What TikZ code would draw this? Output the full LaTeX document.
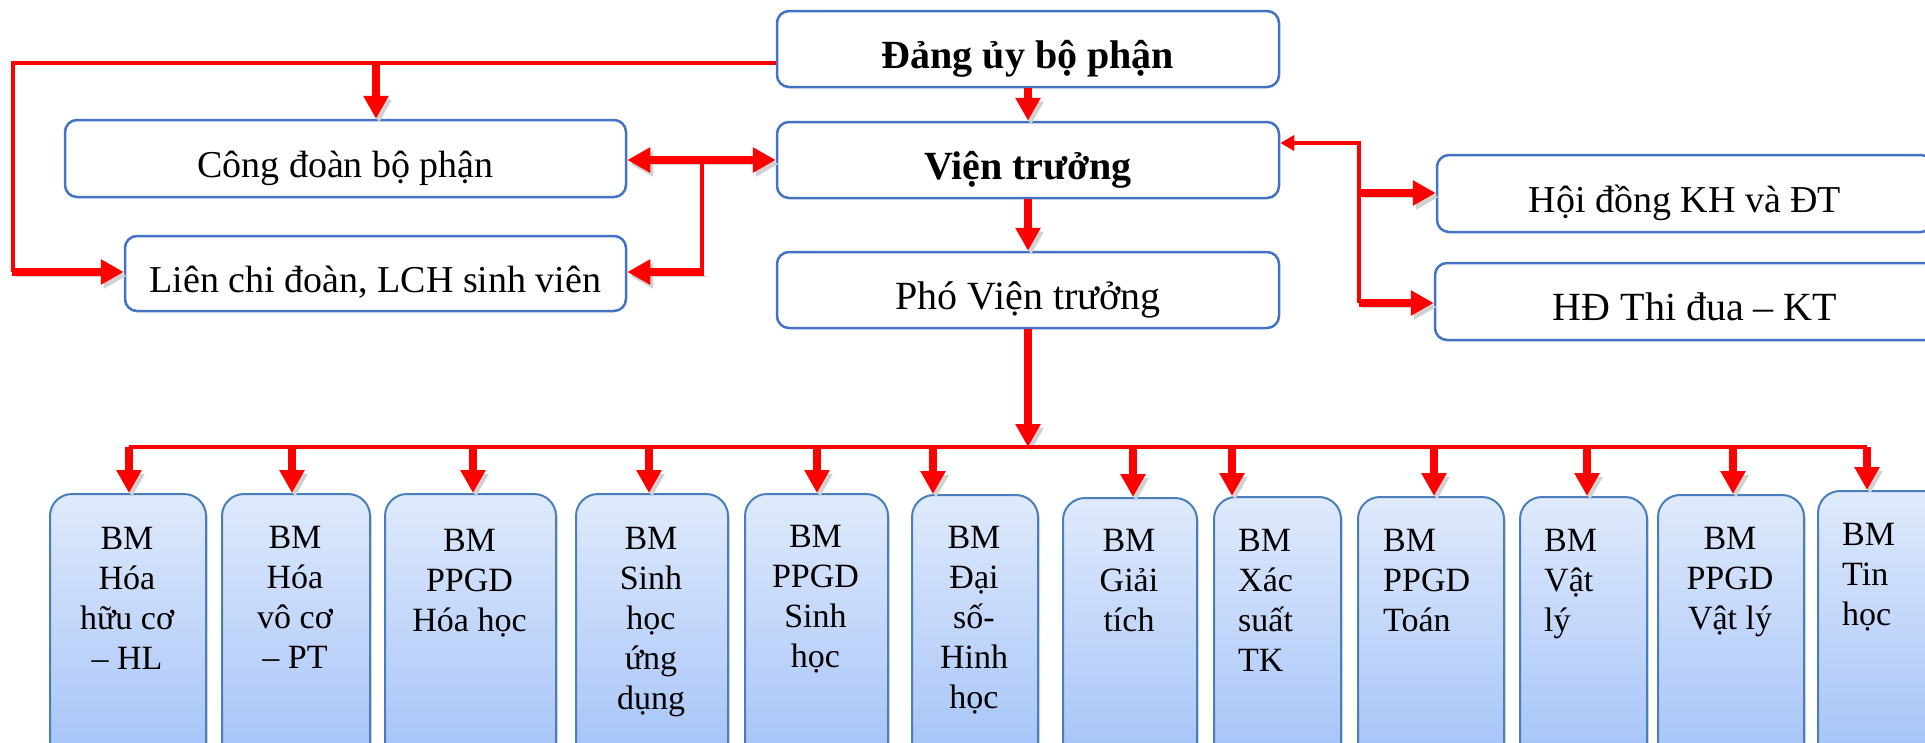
\documentclass[tikz,border=0pt]{standalone}
\usepackage{fontspec}
\setmainfont{Liberation Serif}
\usetikzlibrary{arrows.meta,calc,shadows}
\definecolor{redc}{RGB}{255,0,0}
\definecolor{topb}{RGB}{68,114,196}
\definecolor{botb}{RGB}{74,126,187}
\definecolor{gtop}{RGB}{223,234,252}
\definecolor{gbot}{RGB}{158,190,247}
\begin{document}
\begin{tikzpicture}[x=1pt,y=-1pt,
  topbox/.style={draw=topb, line width=2.5pt, rounded corners=12pt, fill=white,
    minimum height=76pt, text height=38pt, text depth=0pt, inner sep=0pt},
  bmbox/.style={draw=botb, line width=2pt, rounded corners=22pt, top color=gtop,
    bottom color=gbot, anchor=north west, inner sep=0pt, minimum height=300pt,
    drop shadow={shadow xshift=2pt, shadow yshift=-3pt, opacity=0.25}},
  bmtext/.style={font=\fontsize{34}{40}\selectfont, inner sep=0pt, align=center, anchor=north},
  bmleft/.style={font=\fontsize{34}{40}\selectfont, inner sep=0pt, align=left, anchor=north west},
  thinred/.style={draw=redc, line width=3.5pt},
  shad/.style={preaction={draw=black!18, transform canvas={xshift=3pt,yshift=-4pt}}},
  thickarr/.style={draw=redc, line width=7.5pt, shad, -{Triangle[length=23pt,width=24pt]}},
  thickdbl/.style={draw=redc, line width=7.5pt, shad, {Triangle[length=23pt,width=24pt]}-{Triangle[length=23pt,width=24pt]}},
  thinarr/.style={draw=redc, line width=3.5pt, -{Triangle[length=14pt,width=15pt]}}
]
\useasboundingbox (0,0) rectangle (1925,742);
\clip (0,0) rectangle (1925,742);

% top boxes
\node[topbox, minimum width=502pt, font=\fontsize{40}{48}\selectfont\bfseries] (dang) at (1028,49) {Đảng ủy bộ phận};
\node[topbox, minimum width=502pt, font=\fontsize{40}{48}\selectfont\bfseries] (vien) at (1028,160) {Viện trưởng};
\node[topbox, minimum width=502pt, font=\fontsize{40}{48}\selectfont] (pho) at (1028,290) {Phó Viện trưởng};
\node[topbox, minimum width=561pt, minimum height=77pt, font=\fontsize{38}{46}\selectfont] (cong) at (345.5,158.5) {Công đoàn bộ phận};
\node[topbox, minimum width=501pt, minimum height=75pt, font=\fontsize{38}{46}\selectfont] (lien) at (375.5,273.5) {Liên chi đoàn, LCH sinh viên};
\node[topbox, minimum width=496pt, minimum height=77pt, font=\fontsize{38}{46}\selectfont] (hoi) at (1685,193.5) {Hội đồng KH và ĐT};
\node[topbox, minimum width=520pt, minimum height=77pt, font=\fontsize{40}{48}\selectfont] (hdtd) at (1695,301.5) {HĐ Thi đua – KT};

% bottom boxes
\node[bmbox, minimum width=156pt] (b1) at (49,493) {};
\node[bmbox, minimum width=148pt] (b2) at (221,493) {};
\node[bmbox, minimum width=171pt] (b3) at (384,493) {};
\node[bmbox, minimum width=152pt] (b4) at (575,493) {};
\node[bmbox, minimum width=143pt] (b5) at (744,493) {};
\node[bmbox, minimum width=126pt] (b6) at (911,494) {};
\node[bmbox, minimum width=134pt] (b7) at (1062,497) {};
\node[bmbox, minimum width=127pt] (b8) at (1213,496) {};
\node[bmbox, minimum width=146pt] (b9) at (1357,496) {};
\node[bmbox, minimum width=127pt] (b10) at (1519,496) {};
\node[bmbox, minimum width=146pt] (b11) at (1657,494) {};
\node[bmbox, minimum width=146pt] (b12) at (1817,490) {};

\node[bmtext] (t1) at (127,527.5) {BM\\Hóa\\hữu cơ\\– HL};
\node[bmtext] (t2) at (295,526.5) {BM\\Hóa\\vô cơ\\– PT};
\node[bmtext] (t3) at (469.5,529.5) {BM\\PPGD\\Hóa học};
\node[bmtext] (t4) at (651,527.5) {BM\\Sinh\\học\\ứng\\dụng};
\node[bmtext] (t5) at (815.5,525.5) {BM\\PPGD\\Sinh\\học};
\node[bmtext] (t6) at (974,526.5) {BM\\Đại\\số-\\Hinh\\học};
\node[bmtext] (t7) at (1129,529.5) {BM\\Giải\\tích};
\node[bmleft] (t8) at (1238,529.5) {BM\\Xác\\suất\\TK};
\node[bmleft] (t9) at (1383,529.5) {BM\\PPGD\\Toán};
\node[bmleft] (t10) at (1544,529.5) {BM\\Vật\\lý};
\node[bmtext] (t11) at (1730,527.5) {BM\\PPGD\\Vật lý};
\node[bmleft] (t12) at (1842,523.5) {BM\\Tin\\học};

% coordinates
\coordinate (c1) at (13,63);
\coordinate (c2) at (13,272);
\coordinate (c3) at (376,63);
\coordinate (d1) at (702,160);
\coordinate (d2) at (702,272);
\coordinate (r1) at (1359,143);
\coordinate (r2) at (1359,193);
\coordinate (r3) at (1359,303);
\coordinate (busM) at (1028,447);
\coordinate (a1) at (129,447);
\coordinate (a2) at (292,447);
\coordinate (a3) at (473,447);
\coordinate (a4) at (649,447);
\coordinate (a5) at (817,447);
\coordinate (a6) at (933,447);
\coordinate (a7) at (1133,447);
\coordinate (a8) at (1232,447);
\coordinate (a9) at (1434,447);
\coordinate (a10) at (1587,447);
\coordinate (a11) at (1733,447);
\coordinate (a12) at (1867,447);

% left connectors
\draw[thinred] (dang.west |- c1) -- (c1) -- (c2);
\draw[thickarr] ([xshift=-1.5pt]c2) -- (c2 -| lien.west);
\draw[thickarr] (c3) -- (c3 |- cong.north);
\draw[thickdbl] (cong.east |- d1) -- (vien.west |- d1);
\draw[thinred] (d1) -- (d2);
\draw[thickarr] ([xshift=1.5pt]d2) -- (d2 -| lien.east);

% center
\draw[thickarr] (dang.south) -- (vien.north);
\draw[thickarr] (vien.south) -- (pho.north);
\draw[thickarr] (pho.south) -- (busM);

% right
\draw[thinarr] (r3) -- (r1) -- (r1 -| vien.east);
\draw[thickarr] (r2) -- (r2 -| hoi.west);
\draw[thickarr] (r3) -- (r3 -| hdtd.west);

% bus
\draw[thinred] (a1) -- (a12);
\foreach \k in {1,...,12}{
  \draw[thickarr] (a\k) -- (a\k |- b\k.north);
}
\end{tikzpicture}
\end{document}
